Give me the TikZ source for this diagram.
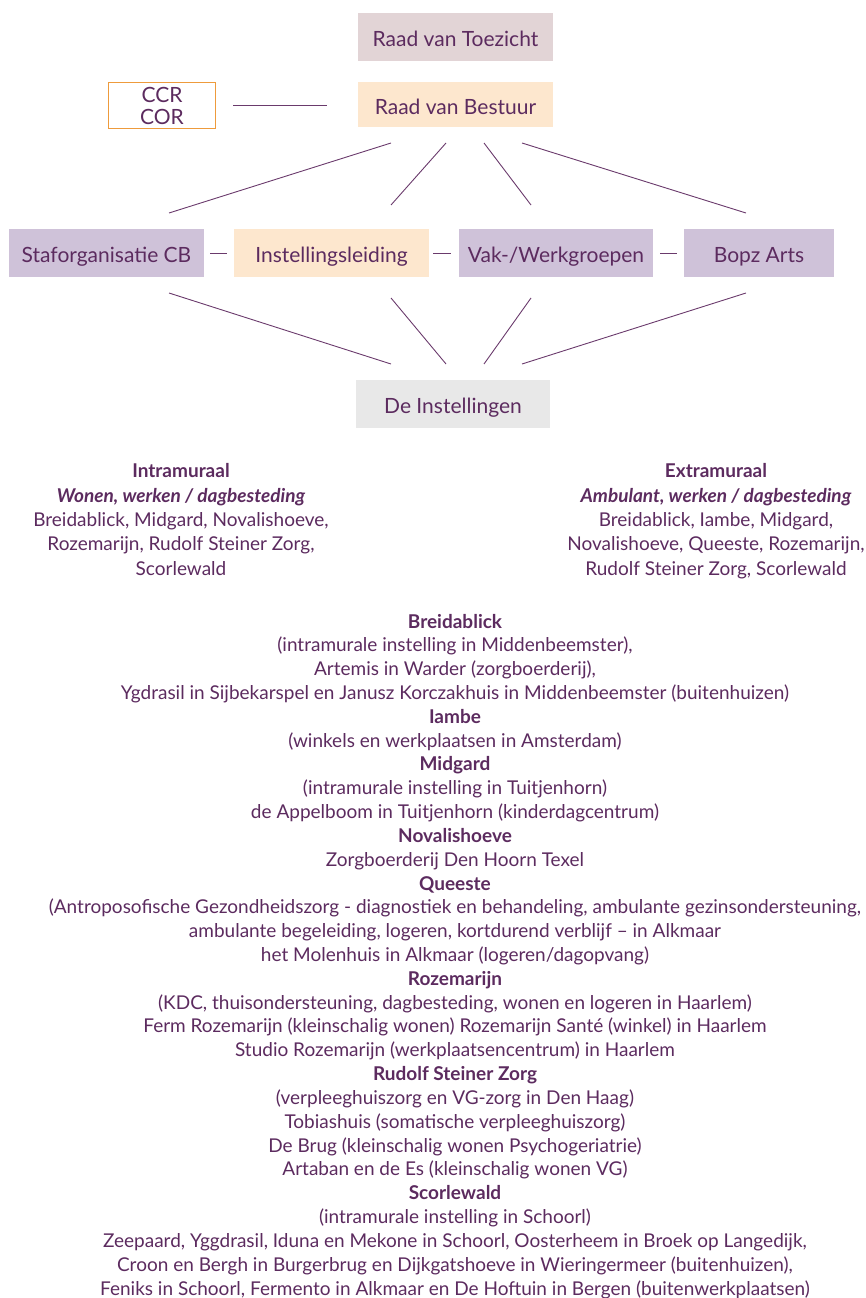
\documentclass[tikz,border=0pt]{standalone}
\usepackage{fontspec}
\setmainfont{Lato}
\definecolor{txt}{HTML}{5C2B5F}
\definecolor{ln}{HTML}{6A3A6C}
\definecolor{rvt}{HTML}{E2D4D6}
\definecolor{peach}{HTML}{FDE7CE}
\definecolor{lav}{HTML}{CFC2D9}
\definecolor{grey}{HTML}{E8E8E8}
\definecolor{orng}{HTML}{EE9B3C}
\begin{document}
\begin{tikzpicture}[x=1pt,y=-1pt,
  boxbase/.style={minimum height=48pt,inner sep=0pt,text=txt,font=\fontsize{21}{22}\selectfont},
  box/.style={boxbase,text height=20pt,text depth=1pt},
  conn/.style={draw=ln,line width=0.9pt},
  body/.style={text=txt,align=center,inner sep=0pt,anchor=base}]
\useasboundingbox (0,0) rectangle (865,1298);
% boxes
\node[box,fill=rvt,minimum width=195pt] (rvt) at (455.5,37.5) {Raad van Toezicht};
\node[box,fill=peach,minimum width=195pt,minimum height=45pt] (rvb) at (455.5,104.5) {Raad van Bestuur};
\node[boxbase,draw=orng,line width=1.2pt,fill=white,minimum width=107pt,minimum height=46pt,align=center] (ccr) at (162,105.5) {CCR\\COR};
\node[box,fill=lav,minimum width=195pt] (staf) at (106.5,253) {Staforganisatie CB};
\node[box,fill=peach,minimum width=195pt] (inst) at (331.5,253) {Instellingsleiding};
\node[box,fill=lav,minimum width=194pt] (vak) at (556,253) {Vak-/Werkgroepen};
\node[box,fill=lav,minimum width=150pt] (bopz) at (759,253) {Bopz Arts};
\node[box,fill=grey,minimum width=194pt] (dei) at (453,404) {De Instellingen};
% connectors
\coordinate (c1) at (233,105); \coordinate (c2) at (327,105);
\draw[conn] (c1) -- (c2);
\draw[conn] ([xshift=6pt]staf.east) -- ([xshift=-7pt]inst.west);
\draw[conn] ([xshift=4pt]inst.east) -- ([xshift=-8pt]vak.west);
\draw[conn] ([xshift=7pt]vak.east) -- ([xshift=-7pt]bopz.west);
\coordinate (a1) at (391,143); \coordinate (a2) at (169,213);
\coordinate (b1) at (446,143); \coordinate (b2) at (391,205);
\coordinate (d1) at (484,143); \coordinate (d2) at (531,205);
\coordinate (e1) at (522,143); \coordinate (e2) at (746,213);
\draw[conn] (a1) -- (a2); \draw[conn] (b1) -- (b2);
\draw[conn] (d1) -- (d2); \draw[conn] (e1) -- (e2);
\coordinate (f1) at (169,293); \coordinate (f2) at (391,364);
\coordinate (g1) at (391,298); \coordinate (g2) at (446,364);
\coordinate (h1) at (531,298); \coordinate (h2) at (484,364);
\coordinate (k1) at (746,293); \coordinate (k2) at (522,364);
\draw[conn] (f1) -- (f2); \draw[conn] (g1) -- (g2);
\draw[conn] (h1) -- (h2); \draw[conn] (k1) -- (k2);
% side texts
\node[body,font=\fontsize{19}{24.3}\selectfont] (intra) at (181,575) {\textbf{Intramuraal}\\\textbf{\textit{Wonen, werken / dagbesteding}}\\Breidablick, Midgard, Novalishoeve,\\Rozemarijn, Rudolf Steiner Zorg,\\Scorlewald};
\node[body,font=\fontsize{19}{24.3}\selectfont] (extra) at (716,575) {\textbf{Extramuraal}\\\textbf{\textit{Ambulant, werken / dagbesteding}}\\Breidablick, Iambe, Midgard,\\Novalishoeve, Queeste, Rozemarijn,\\Rudolf Steiner Zorg, Scorlewald};
% list
\node[body,font=\fontsize{19}{23.82}\selectfont] (list) at (455,1295) {\textbf{Breidablick}\\
(intramurale instelling in Middenbeemster),\\
Artemis in Warder (zorgboerderij),\\
Ygdrasil in Sijbekarspel en Janusz Korczakhuis in Middenbeemster (buitenhuizen)\\
\textbf{Iambe}\\
(winkels en werkplaatsen in Amsterdam)\\
\textbf{Midgard}\\
(intramurale instelling in Tuitjenhorn)\\
de Appelboom in Tuitjenhorn (kinderdagcentrum)\\
\textbf{Novalishoeve}\\
Zorgboerderij Den Hoorn Texel\\
\textbf{Queeste}\\
(Antroposofische Gezondheidszorg - diagnostiek en behandeling, ambulante gezinsondersteuning,\\
ambulante begeleiding, logeren, kortdurend verblijf – in Alkmaar\\
het Molenhuis in Alkmaar (logeren/dagopvang)\\
\textbf{Rozemarijn}\\
(KDC, thuisondersteuning, dagbesteding, wonen en logeren in Haarlem)\\
Ferm Rozemarijn (kleinschalig wonen) Rozemarijn Santé (winkel) in Haarlem\\
Studio Rozemarijn (werkplaatsencentrum) in Haarlem\\
\textbf{Rudolf Steiner Zorg}\\
(verpleeghuiszorg en VG-zorg in Den Haag)\\
Tobiashuis (somatische verpleeghuiszorg)\\
De Brug (kleinschalig wonen Psychogeriatrie)\\
Artaban en de Es (kleinschalig wonen VG)\\
\textbf{Scorlewald}\\
(intramurale instelling in Schoorl)\\
Zeepaard, Yggdrasil, Iduna en Mekone in Schoorl, Oosterheem in Broek op Langedijk,\\
Croon en Bergh in Burgerbrug en Dijkgatshoeve in Wieringermeer (buitenhuizen),\\
Feniks in Schoorl, Fermento in Alkmaar en De Hoftuin in Bergen (buitenwerkplaatsen)};
\end{tikzpicture}
\end{document}
